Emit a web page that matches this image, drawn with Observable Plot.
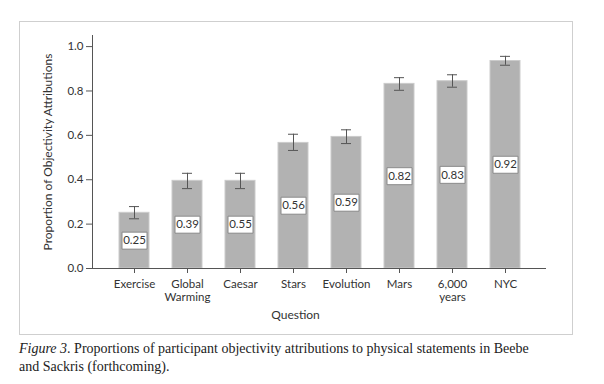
<!DOCTYPE html>
<html>
<head>
<meta charset="utf-8">
<script src="https://cdn.jsdelivr.net/npm/d3@7"></script>
<script src="https://cdn.jsdelivr.net/npm/@observablehq/plot@0.6"></script>
<style>
  html, body { margin: 0; padding: 0; background: #fff; width: 604px; height: 384px; overflow: hidden; position: relative; }
  #frame { position: absolute; left: 19px; top: 21px; width: 552px; height: 312px; border: 1px solid #cfcfcf; }
  #chart { position: absolute; left: 0; top: 0; }
  #caption { position: absolute; left: 19px; top: 340px; font-family: "Liberation Serif", "DejaVu Serif", serif; font-size: 14px; line-height: 18px; color: #222; white-space: nowrap; }
</style>
</head>
<body>
<div id="frame"></div>
<div id="chart"></div>
<div id="caption"><i>Figure 3</i>. Proportions of participant objectivity attributions to physical statements in Beebe<br>and Sackris (forthcoming).</div>
<script>
const questions = ["Exercise", "Global\nWarming", "Caesar", "Stars", "Evolution", "Mars", "6,000\nyears", "NYC"];
const proportions = [0.251, 0.395, 0.395, 0.566, 0.593, 0.832, 0.844, 0.935];
const errLow = [0.224, 0.360, 0.360, 0.532, 0.563, 0.803, 0.817, 0.916];
const errHigh = [0.279, 0.429, 0.429, 0.605, 0.625, 0.860, 0.873, 0.956];
const boxLabels = ["0.25", "0.39", "0.55", "0.56", "0.59", "0.82", "0.83", "0.92"];
const yTicks = [0, 0.2, 0.4, 0.6, 0.8, 1.0];

const data = questions.map((q, i) => ({q, v: proportions[i], lo: errLow[i], hi: errHigh[i], lab: boxLabels[i]}));

const boxSymbol = { draw(ctx) { ctx.rect(-12.5, -8.5, 25, 17); } };
const font = "Lato, 'Open Sans', sans-serif";

const chart = Plot.plot({
  width: 604,
  height: 334,
  marginLeft: 92,
  marginRight: 58,
  marginTop: 35,
  marginBottom: 66,
  style: { fontFamily: font, fontSize: "11.5px", color: "#333", background: "transparent" },
  x: { domain: questions, paddingInner: 0.44, paddingOuter: 0.465, label: null },
  y: { domain: [0, 1.05], label: null },
  marks: [
    Plot.barY(data, { x: "q", y: "v", fill: "#b2b2b2", stroke: "#cbcbcb", strokeWidth: 1 }),
    Plot.ruleX(data, { x: "q", y1: "lo", y2: "hi", stroke: "#555", strokeWidth: 1 }),
    Plot.tickY(data, { x: "q", y: "lo", stroke: "#555", strokeWidth: 1, insetLeft: 10, insetRight: 10 }),
    Plot.tickY(data, { x: "q", y: "hi", stroke: "#555", strokeWidth: 1, insetLeft: 10, insetRight: 10 }),
    Plot.dot(data, { x: "q", y: d => d.v / 2, symbol: boxSymbol, fill: "white", stroke: "#8a8a8a", strokeWidth: 1 }),
    Plot.text(data, { x: "q", y: d => d.v / 2, text: "lab", fill: "#333", fontSize: 11.5, textAnchor: "middle" }),
    Plot.ruleY([0], { stroke: "#555" }),
    Plot.frame({ anchor: "left", stroke: "#555" }),
    Plot.axisY({ ticks: yTicks, tickFormat: d3.format(".1f"), tickSize: 6, tickPadding: 3, stroke: "#555", fill: "#333", label: null }),
    Plot.axisX({ tickSize: 5, tickPadding: 5, stroke: "#555", fill: "#333", label: null, lineHeight: 1.15 }),
    Plot.text(["Question"], { frameAnchor: "bottom", dx: -24, dy: 50, fill: "#333", fontSize: 12 }),
    Plot.text(["Proportion of Objectivity Attributions"], { frameAnchor: "left", textAnchor: "middle", rotate: -90, dx: -44, fill: "#333", fontSize: 12 })
  ]
});
document.getElementById("chart").appendChild(chart);
</script>
</body>
</html>
